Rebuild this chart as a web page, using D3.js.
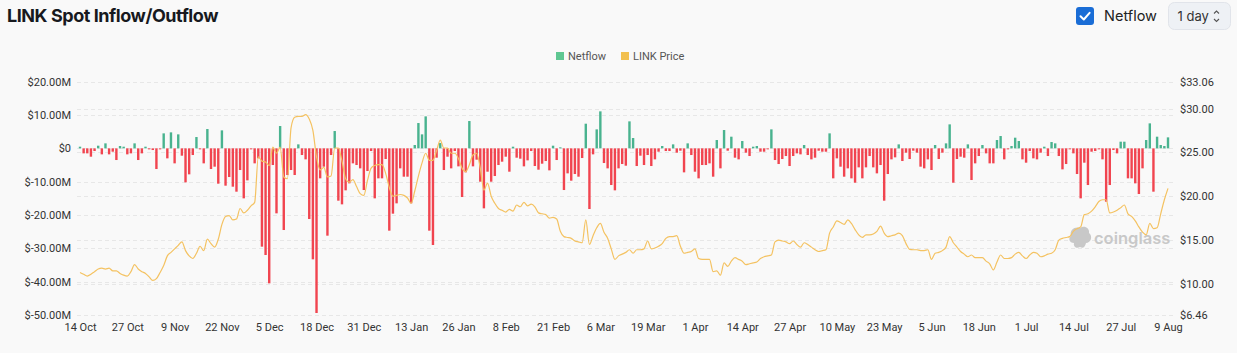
<!DOCTYPE html>
<html>
<head>
<meta charset="utf-8">
<script src="https://cdn.jsdelivr.net/npm/d3@7"></script>
<style>
  body { margin: 0; background: #f9f9f9; }
  #container { width: 1237px; height: 353px; }
</style>
</head>
<body>
<div id="container"></div>
<script>
// Chart size
const width = 1237, height = 353;

// First day of the series (one bar / one price point per day)
const startDay = new Date(2024, 9, 14);

// Daily netflow in millions of USD
const netflow = [
  0.5, -1.5, -1.5, -2.5, -0.8, 0.8, -1.8, 1.5, -1.8, -1.0,
  -3.5, 0.7, 0.5, -1.8, -1.5, 1.5, -3.5, -1.5, 0.5, -0.3,
  -0.5, -6.2, -0.3, 4.5, -3.0, 4.8, -4.5, 4.2, -2.2, -10.2,
  -7.8, -2.0, 3.4, -0.3, -4.5, 5.8, -6.2, -5.5, -10.6, 5.4,
  -11.2, -8.6, -11.5, -13.0, -6.5, -15.0, -9.6, -0.3, -4.5, -3.0,
  -29.5, -32.0, -40.5, -5.0, -19.5, 6.7, -24.5, -8.0, -6.5, -8.0,
  1.2, -2.0, -3.3, -21.2, -33.3, -49.4, -9.0, -5.5, -26.2, -2.0,
  5.2, -15.7, -16.8, -12.6, -10.5, -4.5, -5.0, -6.0, -12.5, -6.8,
  -0.8, -15.0, -9.0, -9.0, -3.2, -24.7, -19.6, -16.5, -6.0, -8.5,
  -8.5, -16.5, 1.0, 7.6, 4.2, 9.6, -24.7, -29.0, -2.8, 1.6,
  -6.5, -2.5, -6.0, -0.8, -5.4, -14.6, -7.2, 8.2, -5.4, -3.4,
  -10.0, -18.0, -7.0, -10.0, -8.3, -5.0, -4.0, -2.5, -7.0, 0.5,
  -2.8, -3.1, -5.4, -3.6, -0.8, -5.3, -6.4, -4.6, -3.8, -6.6,
  0.8, -3.5, 0.3, -12.5, -7.5, -9.7, -7.7, -8.5, -2.9, 7.4,
  -18.2, -1.8, 5.7, 11.1, -4.4, -6.0, -11.0, -12.6, -6.0, -4.7,
  -5.2, 8.1, 3.1, -5.3, -2.2, -5.0, -2.0, -5.3, -3.3, -1.0,
  0.7, -0.8, -0.8, 1.2, -1.3, -0.7, -7.2, 1.5, -2.0, -7.0,
  -9.0, -5.0, -5.0, -4.5, -8.5, 2.5, -6.0, 5.5, -0.7, 3.5,
  -2.8, -3.3, 2.2, -1.3, -2.3, 0.5, 0.7, -1.0, -1.0, -0.3,
  5.7, -3.5, -4.7, -3.2, -2.3, -5.3, -2.3, -1.5, -1.8, 1.0,
  -2.0, -3.3, -2.8, -0.7, -1.0, -1.0, 4.5, -9.0, -3.0, -5.5,
  -8.5, -6.0, -9.0, -10.3, -5.7, -9.0, -5.7, -2.3, -5.7, -7.5,
  -5.0, -15.7, -7.7, -3.3, -2.7, 1.2, -3.8, -1.3, -3.2, -0.7,
  -1.3, -5.5, -6.0, -3.3, -6.5, 1.0, -3.2, -1.3, 1.5, 7.2,
  -10.3, -3.2, -2.5, -2.8, 1.2, -9.5, -4.5, -2.3, 1.0, -1.5,
  -4.5, -4.5, 2.5, 3.7, -3.3, -0.3, 0.7, 3.2, 2.2, -3.3,
  -4.3, -0.8, -3.0, -3.3, -1.3, 0.5, -2.3, 1.9, 1.5, -2.3,
  -6.3, -4.7, -0.3, -1.5, -7.7, -15.0, -4.3, -11.0, -1.0, -0.8,
  -0.3, -3.3, -16.0, -11.0, -0.5, -1.5, 2.0, 2.0, -9.0, -9.0,
  -10.5, -13.7, -6.0, 2.5, 7.5, -13.0, 3.5, 1.0, 0.7, 3.3
];

// Daily LINK price in USD
const linkPrice = [
  11.3, 11.1, 10.9, 11.1, 11.4, 11.7, 11.8, 11.7, 11.8, 11.5,
  11.5, 11.2, 11.0, 10.9, 11.4, 12.2, 11.7, 11.4, 11.2, 10.8,
  10.4, 10.6, 11.3, 12.1, 13.2, 13.6, 14.0, 14.4, 14.8, 13.8,
  13.2, 12.9, 13.5, 14.3, 13.8, 15.1, 14.6, 14.2, 15.1, 16.8,
  17.7, 17.8, 17.3, 17.4, 18.6, 18.1, 18.4, 18.9, 19.3, 24.5,
  24.0, 23.9, 23.5, 25.6, 24.9, 25.6, 22.2, 22.0, 27.8, 29.0,
  29.1, 29.1, 29.3, 28.8, 27.5, 24.5, 23.0, 23.3, 22.2, 22.3,
  25.5, 25.5, 24.0, 22.0, 21.6, 21.9, 21.1, 20.3, 20.1, 21.8,
  23.2, 23.5, 23.6, 23.6, 22.6, 21.0, 20.0, 20.1, 20.2, 20.1,
  19.8, 19.2, 20.6, 22.3, 23.8, 24.9, 24.1, 24.1, 25.2, 26.4,
  25.5, 25.5, 24.9, 24.9, 24.3, 23.2, 22.8, 23.6, 24.7, 24.9,
  23.2, 20.7, 21.5, 20.0, 19.2, 18.6, 18.4, 18.2, 18.5, 18.3,
  19.0, 18.8, 19.3, 18.9, 19.1, 18.8, 18.1, 18.0, 17.9, 17.5,
  17.6, 17.4, 16.0, 15.4, 15.3, 15.2, 14.9, 14.8, 14.7, 17.3,
  14.5, 15.5, 16.4, 16.9, 15.9, 15.2, 14.0, 12.8, 13.2, 13.4,
  13.6, 13.9, 13.5, 13.9, 13.9, 14.0, 14.9, 14.0, 14.1, 14.3,
  14.6, 15.2, 15.4, 15.4, 15.5, 14.3, 13.5, 13.6, 13.7, 14.0,
  12.9, 12.8, 12.8, 12.8, 11.4, 11.5, 11.0, 12.4, 12.0, 12.6,
  13.0, 12.8, 12.6, 12.2, 12.3, 12.4, 12.5, 12.9, 13.1, 13.2,
  13.3, 14.8, 15.0, 14.9, 14.8, 14.6, 14.9, 14.5, 14.2, 14.7,
  14.5, 14.2, 13.9, 13.7, 13.8, 13.9, 15.8, 16.5, 17.2, 17.0,
  16.8, 17.3, 16.9, 16.2, 15.6, 15.3, 15.6, 15.6, 15.7, 16.0,
  16.6, 15.8, 15.4, 15.5, 15.6, 15.8, 15.5, 14.6, 13.95, 13.9,
  13.9, 13.8, 13.8, 13.9, 12.8, 13.5, 13.6, 13.8, 14.2, 15.4,
  14.7, 14.2, 13.7, 13.4, 13.1, 13.3, 13.0, 13.0, 13.0, 12.6,
  12.3, 11.6, 12.5, 13.3, 12.9, 12.9, 13.0, 13.4, 13.6, 13.2,
  12.9, 13.3, 13.6, 13.5, 13.1, 13.2, 13.4, 13.5, 13.9, 15.0,
  15.2, 15.3, 15.4, 16.0, 16.3, 16.5, 17.9, 18.0, 18.3, 18.8,
  19.4, 19.6, 19.6, 18.1, 18.2, 18.4, 18.7, 19.0, 18.0, 17.7,
  17.2, 16.5, 15.9, 15.6, 16.9, 16.3, 16.4, 18.0, 19.6, 20.9
];

// Axis ticks
const leftTicks = [20, 10, 0, -10, -20, -30, -40, -50];
const rightTicks = [33.06, 30, 25, 20, 15, 10, 6.46];
const xTickLabels = ["14 Oct", "27 Oct", "9 Nov", "22 Nov", "5 Dec", "18 Dec", "31 Dec",
  "13 Jan", "26 Jan", "8 Feb", "21 Feb", "6 Mar", "19 Mar", "1 Apr", "14 Apr", "27 Apr",
  "10 May", "23 May", "5 Jun", "18 Jun", "1 Jul", "14 Jul", "27 Jul", "9 Aug"];

// Colors
const green = "#49b38f", red = "#f1444f", gold = "#f4c261";

const days = netflow.map((d, i) => d3.timeDay.offset(startDay, i));
const data = days.map((d, i) => ({ date: d, flow: netflow[i], price: linkPrice[i] }));

const svg = d3.select("#container")
  .append("svg")
  .attr("width", width)
  .attr("height", height)
  .style("font-family", "Roboto, 'Noto Sans', sans-serif");

svg.append("rect").attr("width", width).attr("height", height).attr("fill", "#f9f9f9");

// Scales
const x = d3.scaleTime()
  .domain([days[0], days[days.length - 1]])
  .range([80, 1168]);
const yLeft = d3.scaleLinear().domain([-50, 20]).range([315, 81.7]);
const yRight = d3.scaleLinear().domain([6.46, 33.06]).range([315, 81.7]);

// Header: title
svg.append("text")
  .attr("x", 7).attr("y", 22)
  .attr("font-family", "Inter, Roboto, sans-serif")
  .attr("font-weight", 700)
  .attr("font-size", 18)
  .attr("letter-spacing", -0.45)
  .attr("fill", "#17191e")
  .text("LINK Spot Inflow/Outflow");

// Header: checkbox + Netflow
const cb = svg.append("g").attr("transform", "translate(1076,7)");
cb.append("rect").attr("width", 18).attr("height", 18).attr("rx", 3).attr("fill", "#1a6dd6");
cb.append("path")
  .attr("d", "M4.5 9.3 L7.8 12.5 L13.6 5.8")
  .attr("fill", "none").attr("stroke", "#fff").attr("stroke-width", 2)
  .attr("stroke-linecap", "round").attr("stroke-linejoin", "round");
svg.append("text")
  .attr("x", 1104).attr("y", 21)
  .attr("font-family", "Inter, Roboto, sans-serif")
  .attr("font-size", 14.5).attr("fill", "#222")
  .text("Netflow");

// Header: interval selector
const sel = svg.append("g").attr("transform", "translate(1168.5,2.5)");
sel.append("rect").attr("width", 62).attr("height", 27).attr("rx", 6)
  .attr("fill", "#eef1f5").attr("stroke", "#e1e4ea");
sel.append("text").attr("x", 9).attr("y", 18.5)
  .attr("font-family", "Inter, Roboto, sans-serif")
  .attr("font-size", 13).attr("fill", "#333").text("1 day");
sel.append("path")
  .attr("d", "M45.5 11 L48 8.5 L50.5 11 M45.5 16.5 L48 19 L50.5 16.5")
  .attr("fill", "none").attr("stroke", "#555").attr("stroke-width", 1.1);

// Legend
const legend = svg.append("g").attr("font-size", 11).attr("fill", "#555");
[["Netflow", "#5fc792", 556], ["LINK Price", "#f2c04f", 621]].forEach(([name, c, lx]) => {
  legend.append("rect").attr("x", lx).attr("y", 52).attr("width", 8).attr("height", 8).attr("fill", c);
  legend.append("text").attr("x", lx + 12).attr("y", 60).text(name);
});

// Gridlines (left and right tick positions)
const grid = svg.append("g")
  .attr("stroke", "#e7e7e7").attr("stroke-dasharray", "4,3").attr("stroke-width", 1);
leftTicks.forEach(t => grid.append("line")
  .attr("x1", 77).attr("x2", 1173)
  .attr("y1", Math.round(yLeft(t)) + 0.5).attr("y2", Math.round(yLeft(t)) + 0.5));
rightTicks.forEach(t => grid.append("line")
  .attr("x1", 77).attr("x2", 1173)
  .attr("y1", Math.round(yRight(t)) + 0.5).attr("y2", Math.round(yRight(t)) + 0.5));

// Left axis
svg.append("g")
  .attr("transform", "translate(71,0)")
  .call(d3.axisLeft(yLeft).tickValues(leftTicks).tickSize(0).tickPadding(0)
    .tickFormat(d => d === 0 ? "$0" : `$${d.toFixed(2)}M`))
  .call(g => g.select(".domain").remove())
  .call(g => g.selectAll("text").attr("font-size", 11).attr("fill", "#333")
    .attr("font-family", "Roboto, sans-serif"));

// Right axis
svg.append("g")
  .attr("transform", "translate(1180,0)")
  .call(d3.axisRight(yRight).tickValues(rightTicks).tickSize(0).tickPadding(0)
    .tickFormat(d => `$${d.toFixed(2)}`))
  .call(g => g.select(".domain").remove())
  .call(g => g.selectAll("text").attr("font-size", 11).attr("fill", "#333")
    .attr("font-family", "Roboto, sans-serif"));

// Bottom axis
const xTickDates = xTickLabels.map((l, i) => d3.timeDay.offset(startDay, i * 13));
svg.append("g")
  .attr("transform", "translate(0,319)")
  .call(d3.axisBottom(x).tickValues(xTickDates).tickSize(0).tickPadding(4)
    .tickFormat((d, i) => xTickLabels[i]))
  .call(g => g.select(".domain").remove())
  .call(g => g.selectAll("text").attr("font-size", 11).attr("fill", "#333")
    .attr("font-family", "Roboto, sans-serif"));

// Watermark
const wm = svg.append("g").attr("fill", "#c8c8c8");
wm.append("path")
  .attr("d", "M1071 236 C1069 229 1076 226 1080 228 C1084 225 1090 228 1089 233 C1093 236 1091 243 1086 243 C1085 247 1083 249 1080 247 C1077 249 1073 247 1074 243 C1069 243 1068 238 1071 236 Z");
wm.append("text")
  .attr("x", 1094).attr("y", 244)
  .attr("font-family", "Inter, Roboto, sans-serif")
  .attr("font-weight", 600).attr("font-size", 16.5)
  .text("coinglass");

// Netflow bars
const barW = 2.4;
svg.append("g")
  .selectAll("rect")
  .data(data)
  .enter()
  .append("rect")
  .attr("x", d => x(d.date) - barW / 2)
  .attr("width", barW)
  .attr("y", d => Math.min(yLeft(0), yLeft(d.flow)))
  .attr("height", d => Math.max(0.8, Math.abs(yLeft(d.flow) - yLeft(0))))
  .attr("fill", d => d.flow >= 0 ? green : red);

// Price line
const line = d3.line()
  .x(d => x(d.date))
  .y(d => yRight(d.price))
  .curve(d3.curveMonotoneX);
svg.append("path")
  .datum(data)
  .attr("d", line)
  .attr("fill", "none")
  .attr("stroke", gold)
  .attr("stroke-width", 1.2);
</script>
</body>
</html>
